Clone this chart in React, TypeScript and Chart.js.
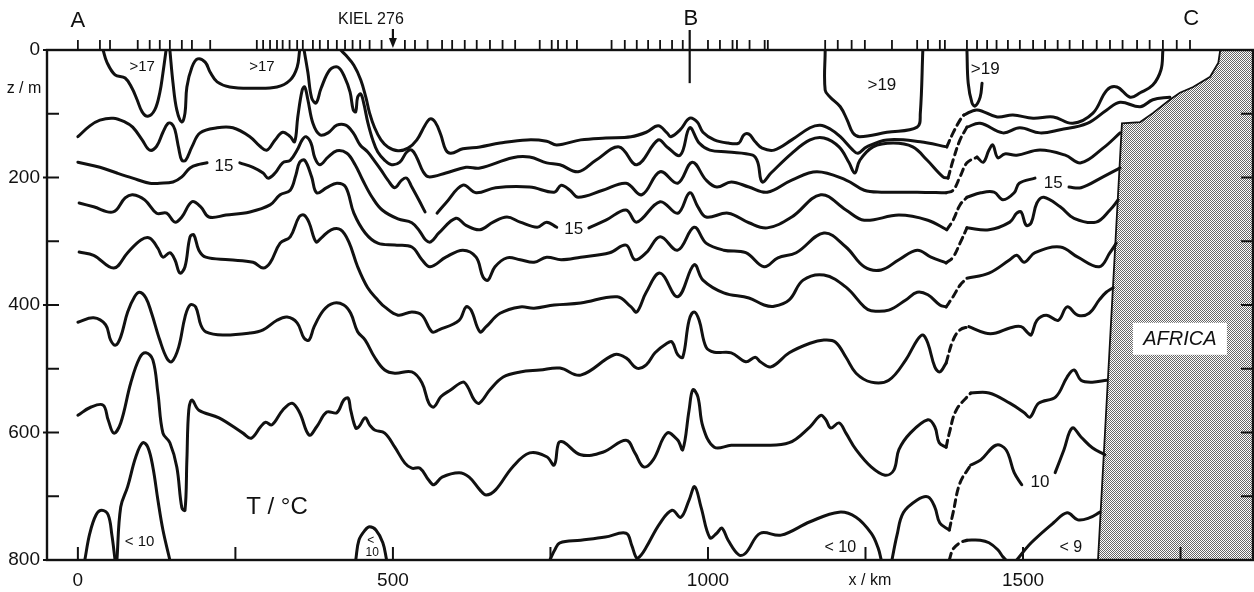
import React, { useEffect, useRef } from "react";
import { Chart, registerables } from "chart.js";
Chart.register(...registerables);

// ---- axes ----
const xRange = [-49, 1865]; // km
const yRange = [0, 800]; // m (depth, downwards)
const depthTicks = [0, 100, 200, 300, 400, 500, 600, 700, 800];
const depthLabels = [0, 200, 400, 600, 800];
const rightTicks = [100, 200, 300, 400, 500, 600, 700];
const distTicks = [0, 250, 500, 750, 1000, 1250, 1500, 1750];
const distLabels = [0, 500, 1000, 1500];
const stations = [0, 35, 51, 95, 114, 130, 146, 165, 181, 210, 284, 294, 305, 316, 325, 336, 348, 357, 373, 384, 397, 411, 424, 436, 448, 463, 482, 519, 535, 555, 578, 594, 614, 633, 654, 674, 694, 733, 752, 762, 776, 792, 847, 868, 887, 905, 924, 943, 960, 1000, 1019, 1039, 1046, 1066, 1090, 1095, 1186, 1206, 1228, 1249, 1292, 1332, 1349, 1368, 1376, 1411, 1427, 1443, 1458, 1476, 1495, 1516, 1535, 1555, 1574, 1595, 1617, 1638, 1658, 1681, 1701, 1722, 1744, 1765];

// ---- isotherms [km, m] ----
const loop17a = [[40,0],[46,19],[59,39],[75,44],[86,60],[94,78],[102,97],[111,104],[122,94],[130,67],[135,36],[140,0]];
const loop17b = [[146,0],[151,52],[157,94],[165,113],[170,99],[173,58],[181,27],[190,14],[202,19],[210,35],[221,50],[241,58],[278,60],[316,58],[337,47],[348,27],[352,0]];
const iso1a = [[417,0],[425,8],[438,24],[449,47],[457,74],[463,99],[471,122],[481,141],[492,152],[508,158],[524,154],[538,141],[551,118],[559,108],[567,113],[576,133],[584,157],[592,162],[611,155],[638,152],[670,146],[713,141],[744,143],[760,149],[798,141],[838,138],[878,136],[902,129],[921,119],[935,130],[941,136],[956,125],[971,107],[983,113],[992,129],[1010,141],[1032,146],[1049,146],[1057,133],[1065,132],[1075,144],[1086,154],[1105,157],[1133,141],[1162,122],[1178,118],[1194,124],[1210,136],[1230,157],[1238,162],[1252,152],[1284,141],[1337,144],[1379,152]];
const iso1dash = [[1379,152],[1389,130],[1400,110],[1406,102]];
const iso1b = [[1406,102],[1427,94],[1459,105],[1484,102],[1516,107],[1548,105],[1579,115],[1611,99],[1633,63],[1649,58],[1670,74],[1686,67],[1706,55],[1719,31],[1722,0]];
const iso2a = [[359,0],[365,35],[371,75],[378,83],[386,60],[400,31],[413,27],[424,44],[432,66],[437,94],[441,97],[444,74],[449,69],[454,85],[460,113],[468,141],[476,160],[487,173],[498,180],[511,176],[522,160],[530,157],[538,169],[548,191],[557,199],[584,193],[616,184],[638,185],[690,169],[717,168],[744,177],[765,180],[794,191],[822,173],[859,152],[887,180],[921,141],[935,152],[956,165],[971,122],[986,146],[1003,157],[1032,160],[1071,165],[1079,176],[1086,207],[1100,193],[1133,162],[1162,141],[1184,138],[1208,152],[1224,177],[1233,193],[1241,173],[1262,152],[1294,146],[1325,152],[1348,173],[1373,199],[1381,201]];
const iso2dash = [[1381,201],[1389,173],[1400,141],[1411,121]];
const iso2b = [[1411,121],[1432,115],[1468,130],[1495,122],[1527,130],[1559,125],[1602,115],[1633,94],[1654,82],[1686,89],[1706,78],[1733,74]];
const iso3a = [[0,136],[19,119],[35,110],[56,107],[75,113],[87,121],[102,141],[114,157],[125,151],[135,129],[143,115],[149,116],[154,125],[160,154],[165,173],[171,173],[181,152],[194,130],[221,122],[246,122],[273,136],[289,151],[300,157],[313,141],[325,129],[337,136],[344,144],[349,105],[356,63],[360,58],[365,78],[373,115],[384,133],[397,130],[411,118],[425,118],[437,130],[448,149],[460,160],[473,177],[481,188],[492,204],[503,216],[514,204],[522,201],[530,215],[541,235],[551,254]];
const iso3b = [[570,256],[584,240],[611,212],[632,224],[663,216],[717,215],[756,223],[767,212],[781,220],[794,231],[833,220],[870,209],[895,227],[924,191],[952,209],[975,176],[997,204],[1014,215],[1037,207],[1065,215],[1094,223],[1133,204],[1173,191],[1219,204],[1248,220],[1275,223],[1332,223],[1378,224]];
const iso3dash = [[1378,224],[1389,220],[1400,199],[1411,177],[1427,168]];
const iso3c = [[1427,168],[1437,176],[1446,157],[1452,149],[1460,169],[1471,163],[1490,165],[1527,157],[1567,165],[1592,177],[1627,154],[1654,130]];
const iso4a = [[0,176],[35,184],[62,193],[87,201],[114,209],[130,209],[151,207],[165,199],[178,185],[194,179],[205,177]];
const iso4b = [[257,177],[278,184],[294,193],[302,201],[313,193],[325,177],[337,173],[348,157],[356,141],[362,136],[370,146],[376,169],[384,180],[397,168],[411,158],[427,162],[440,180],[452,204],[467,231],[483,251],[508,265],[530,271],[543,285],[552,298],[560,301],[573,287],[600,264],[616,275],[638,282],[659,270],[681,262],[702,270],[729,278],[744,270],[760,278]];
const iso4c = [[811,279],[838,267],[870,251],[887,270],[924,238],[952,256],[971,224],[984,246],[997,262],[1032,256],[1065,271],[1094,279],[1133,262],[1179,227],[1219,251],[1248,267],[1303,259],[1349,267],[1379,282]];
const iso4dash = [[1379,282],[1389,267],[1400,243],[1411,231]];
const iso4d = [[1411,231],[1433,224],[1454,223],[1468,235],[1486,224],[1494,209],[1519,201]];
const iso4e = [[1573,215],[1592,216],[1627,199],[1654,185]];
const iso5a = [[2,240],[25,246],[56,254],[75,232],[87,227],[106,235],[125,256],[141,256],[154,270],[165,262],[181,238],[195,246],[208,262],[235,259],[273,254],[305,243],[321,227],[337,220],[346,196],[352,176],[360,173],[371,199],[379,224],[395,216],[411,209],[425,215],[438,256],[456,287],[476,303],[503,306],[530,309],[546,329],[559,340],[584,325],[611,314],[632,325],[643,356],[651,361],[662,340],[681,326],[702,329],[724,333],[744,325],[767,329],[798,325],[844,318],[870,306],[884,329],[902,318],[924,293],[952,314],[978,278],[997,303],[1025,314],[1060,318],[1089,340],[1111,326],[1140,318],[1184,287],[1219,309],[1248,340],[1275,345],[1303,329],[1332,314],[1354,325],[1378,334]];
const iso5dash = [[1378,334],[1389,325],[1400,303],[1411,279]];
const iso5b = [[1411,279],[1446,282],[1479,270],[1490,256],[1497,254],[1505,275],[1513,271],[1522,240],[1533,231],[1559,246],[1581,264],[1616,270],[1638,251],[1651,235]];
const iso6a = [[2,317],[25,322],[57,342],[79,318],[100,298],[114,295],[127,311],[135,325],[146,318],[154,329],[162,350],[170,340],[178,293],[184,290],[192,314],[203,325],[240,329],[278,333],[294,342],[305,334],[321,303],[337,293],[351,262],[359,259],[367,271],[378,301],[386,295],[402,282],[417,282],[430,301],[444,340],[460,373],[476,392],[487,403],[508,416],[530,411],[546,416],[562,442],[573,439],[605,424],[616,403],[624,408],[638,442],[648,434],[670,413],[702,403],[724,405],[756,400],[798,397],[856,387],[878,403],[887,411],[902,380],[924,350],[952,387],[978,337],[992,361],[1025,381],[1065,389],[1089,400],[1105,402],[1129,392],[1151,361],[1184,353],[1219,372],[1248,403],[1259,409],[1287,408],[1314,392],[1332,380],[1349,384],[1368,400],[1378,403]];
const iso6dash = [[1378,403],[1389,387],[1400,369],[1411,358]];
const iso6b = [[1411,358],[1446,350],[1479,329],[1490,322],[1502,333],[1519,318],[1559,309],[1587,325],[1621,340],[1638,318],[1648,303]];
const iso7a = [[0,427],[25,420],[44,431],[52,455],[60,463],[68,450],[79,411],[90,387],[98,380],[108,389],[117,413],[130,455],[141,483],[149,489],[160,466],[170,419],[178,400],[187,403],[195,431],[203,442],[230,447],[273,444],[294,439],[316,424],[332,419],[348,428],[359,452],[367,455],[375,434],[390,408],[406,397],[422,400],[433,413],[444,442],[456,455],[471,482],[487,502],[503,507],[530,505],[546,522],[557,554],[565,560],[576,544],[592,533],[611,521],[619,529],[629,549],[637,554],[654,533],[675,513],[702,505],[733,502],[765,499],[798,510],[851,478],[870,483],[887,499],[902,494],[916,475],[935,460],[943,458],[952,478],[960,482],[970,424],[978,411],[986,424],[997,466],[1010,474],[1037,475],[1060,489],[1075,482],[1083,489],[1100,497],[1129,475],[1162,460],[1184,455],[1202,458],[1219,482],[1235,507],[1259,521],[1287,518],[1314,486],[1332,455],[1341,447],[1349,460],[1360,497],[1368,505],[1378,491]];
const iso7dash = [[1378,491],[1389,455],[1400,439],[1414,434]];
const iso7b = [[1414,434],[1440,444],[1457,444],[1479,436],[1497,434],[1508,444],[1513,447],[1522,424],[1537,416],[1556,424],[1570,403],[1587,416],[1605,413],[1621,392],[1632,380],[1643,373]];
const iso8a = [[0,573],[21,560],[40,557],[48,580],[57,601],[68,585],[84,522],[98,483],[108,475],[119,486],[127,538],[135,601],[146,616],[157,654],[165,718],[170,722],[173,643],[176,565],[181,549],[192,565],[224,577],[262,601],[275,609],[290,591],[298,584],[308,588],[325,565],[340,554],[352,569],[367,604],[379,591],[395,568],[411,569],[422,549],[429,546],[433,565],[441,593],[446,591],[456,577],[463,588],[471,596],[487,601],[503,623],[519,648],[530,656],[543,656],[557,675],[565,682],[578,670],[605,663],[621,670],[638,690],[648,698],[663,690],[690,654],[717,632],[744,638],[756,651],[763,616],[771,615],[798,635],[833,631],[870,612],[884,632],[898,654],[913,643],[935,601],[952,612],[960,627],[970,565],[976,533],[984,544],[992,591],[1010,623],[1037,620],[1083,620],[1129,616],[1162,591],[1179,573],[1187,580],[1195,593],[1208,585],[1219,601],[1235,627],[1259,654],[1281,667],[1295,659],[1303,627],[1321,601],[1349,580],[1360,591],[1367,616],[1378,623]];
const iso8dash = [[1378,623],[1383,601],[1394,565],[1417,538]];
const iso8b = [[1417,538],[1446,538],[1479,554],[1502,569],[1511,576],[1525,554],[1552,544],[1570,513],[1581,502],[1592,518],[1610,521],[1633,518]];
const iso9a = [[749,800],[757,784],[765,773],[798,769],[837,764],[870,758],[879,777],[887,797],[894,792],[902,780],[924,742],[943,722],[957,733],[970,706],[979,685],[989,717],[1003,765],[1014,758],[1022,750],[1032,769],[1049,792],[1060,789],[1083,758],[1116,761],[1162,740],[1208,725],[1235,733],[1259,758],[1270,781],[1275,800]];
const iso9b = [[1292,800],[1300,761],[1310,726],[1332,706],[1349,701],[1360,717],[1368,742],[1383,753]];
const iso9dash = [[1383,753],[1389,726],[1400,679],[1417,651]];
const iso9c = [[1417,651],[1433,643],[1457,620],[1473,627],[1486,663],[1498,682]];
const iso9d = [[1551,663],[1565,627],[1578,593],[1592,607],[1610,624],[1630,635]];
const loop10dash = [[1383,800],[1389,783],[1400,773],[1411,769]];
const loop10 = [[1411,769],[1432,769],[1446,773],[1460,784],[1468,795],[1473,800]];
const line9 = [[1490,800],[1513,773],[1548,742],[1570,726],[1587,737],[1605,734],[1622,725]];
const loopA = [[11,800],[19,758],[29,729],[38,722],[48,729],[54,761],[59,800]];
const loopB = [[62,800],[68,717],[79,685],[92,638],[103,616],[111,623],[119,654],[127,706],[135,753],[146,800]];
const loopC = [[441,800],[446,769],[456,753],[463,748],[473,753],[484,773],[490,800]];
const loop19a = [[1186,0],[1186,63],[1194,74],[1210,89],[1221,110],[1230,130],[1241,136],[1284,129],[1332,121],[1337,99],[1341,0]];
const loop19b = [[1411,0],[1413,52],[1419,83],[1424,88],[1432,74],[1435,52]];
const africaCoast = [[1813,0],[1810,20],[1797,42],[1770,58],[1749,67],[1733,78],[1706,99],[1686,113],[1657,115],[1619,800]];

// ---- labels [text, km, m, size] ----
const fieldLabels: [string, number, number, number][] = [
  [">17", 102, 27, 15], [">17", 292, 27, 15],
  [">19", 1276, 56, 17], [">19", 1440, 31, 17],
  ["15", 232, 182, 17], ["15", 787, 282, 17], ["15", 1548, 209, 17],
  ["10", 1527, 678, 17],
  ["< 10", 98, 772, 15], ["< 10", 1210, 780, 16], ["< 9", 1576, 780, 16],
  ["<", 465, 769, 12], ["10", 467, 789, 12],
  ["T / \u00B0C", 316, 717, 24],
];

const solidLines = [loop17a, loop17b, iso1a, iso1b, iso2a, iso2b, iso3a, iso3b, iso3c, iso4a, iso4b, iso4c, iso4d, iso4e, iso5a, iso5b, iso6a, iso6b, iso7a, iso7b, iso8a, iso8b, iso9a, iso9b, iso9c, iso9d, loop10, line9, loopA, loopB, loopC, loop19a, loop19b];
const dashedLines = [iso1dash, iso2dash, iso3dash, iso4dash, iso5dash, iso6dash, iso7dash, iso8dash, iso9dash, loop10dash];

const FONT = '"Liberation Sans", Arial, Helvetica, sans-serif';
const INK = "#111";

function makeDataset(pts: number[][], dashed: boolean) {
  return {
    data: pts.map(([x, y]) => ({ x, y })),
    borderColor: INK,
    borderWidth: 3,
    borderDash: dashed ? [7, 5] : [],
    borderCapStyle: "round",
    borderJoinStyle: "round",
    pointRadius: 0,
    tension: 0.38,
    fill: false,
  };
}

export default function App() {
  const ref = useRef<HTMLCanvasElement | null>(null);
  useEffect(() => {
    const canvas = ref.current;
    if (!canvas) return;
    const pc = document.createElement("canvas");
    pc.width = 2; pc.height = 2;
    const p = pc.getContext("2d")!;
    p.fillStyle = "#fdfdfd"; p.fillRect(0, 0, 2, 2);
    p.fillStyle = "#666"; p.fillRect(0, 0, 1, 1); p.fillRect(1, 1, 1, 1);
    const pattern = canvas.getContext("2d")!.createPattern(pc, "repeat");

    const decor = {
      id: "decor",
      beforeDatasetsDraw(chart: any) {
        const { ctx, scales } = chart;
        const X = (v: number) => scales.x.getPixelForValue(v);
        const Y = (v: number) => scales.y.getPixelForValue(v);
        ctx.save();
        ctx.beginPath();
        africaCoast.forEach(([k, m], i) => (i ? ctx.lineTo(X(k), Y(m)) : ctx.moveTo(X(k), Y(m))));
        ctx.lineTo(X(xRange[1]), Y(yRange[1]));
        ctx.lineTo(X(xRange[1]), Y(yRange[0]));
        ctx.closePath();
        ctx.fillStyle = pattern as any;
        ctx.fill();
        ctx.beginPath();
        africaCoast.forEach(([k, m], i) => (i ? ctx.lineTo(X(k), Y(m)) : ctx.moveTo(X(k), Y(m))));
        ctx.strokeStyle = INK; ctx.lineWidth = 1.8; ctx.stroke();
        // AFRICA label box
        const bx = X(1749), by = Y(453);
        ctx.fillStyle = "#fff";
        ctx.fillRect(bx - 47, by - 16, 94, 32);
        ctx.fillStyle = INK;
        ctx.font = `italic 20px ${FONT}`;
        ctx.textAlign = "center"; ctx.textBaseline = "middle";
        ctx.fillText("AFRICA", bx, by + 1);
        ctx.restore();
      },
      afterDatasetsDraw(chart: any) {
        const { ctx, chartArea: a, scales } = chart;
        const X = (v: number) => scales.x.getPixelForValue(v);
        const Y = (v: number) => scales.y.getPixelForValue(v);
        const seg = (x1: number, y1: number, x2: number, y2: number) => {
          ctx.beginPath(); ctx.moveTo(x1, y1); ctx.lineTo(x2, y2); ctx.stroke();
        };
        ctx.save();
        ctx.strokeStyle = INK; ctx.fillStyle = INK;
        ctx.lineWidth = 2.4;
        ctx.strokeRect(a.left, a.top, a.right - a.left, a.bottom - a.top);
        ctx.lineWidth = 2;
        depthTicks.forEach((d) => seg(a.left - (d % 200 === 0 ? 4 : 0), Y(d), a.left + 12, Y(d)));
        rightTicks.forEach((d) => seg(a.right, Y(d), a.right - 12, Y(d)));
        distTicks.forEach((k) => seg(X(k), a.bottom, X(k), a.bottom - 13));
        ctx.lineWidth = 1.8;
        stations.forEach((k) => seg(X(k), a.top, X(k), a.top - 10));
        // B marker
        ctx.lineWidth = 2.2;
        seg(X(971), a.top - 20, X(971), Y(52));
        // Kiel 276 arrow
        const ax = X(500);
        seg(ax, a.top - 21, ax, a.top - 10);
        ctx.beginPath(); ctx.moveTo(ax - 4, a.top - 12); ctx.lineTo(ax + 4, a.top - 12); ctx.lineTo(ax, a.top - 2); ctx.closePath(); ctx.fill();

        ctx.textBaseline = "middle";
        ctx.font = `19px ${FONT}`;
        ctx.textAlign = "right";
        depthLabels.forEach((d) => ctx.fillText(String(d), a.left - 7, Y(d)));
        ctx.textAlign = "center";
        distLabels.forEach((k) => ctx.fillText(String(k), X(k), a.bottom + 21));
        ctx.font = `16px ${FONT}`;
        ctx.fillText("z / m", a.left - 23, Y(61));
        ctx.fillText("x / km", X(1257), a.bottom + 21);
        ctx.font = `22px ${FONT}`;
        ctx.fillText("A", X(0), a.top - 29);
        ctx.fillText("B", X(973), a.top - 31);
        ctx.fillText("C", X(1767), a.top - 31);
        ctx.font = `16px ${FONT}`;
        ctx.fillText("KIEL 276", X(465), a.top - 30);
        fieldLabels.forEach(([t, k, m, s]) => {
          ctx.font = `${s}px ${FONT}`;
          ctx.fillText(t, X(k), Y(m));
        });
        ctx.restore();
      },
    };

    const datasets = [
      ...solidLines.map((l) => makeDataset(l, false)),
      ...dashedLines.map((l) => makeDataset(l, true)),
    ];
    const chart = new Chart(canvas, {
      type: "line",
      data: { datasets } as any,
      options: {
        animation: false,
        responsive: false,
        devicePixelRatio: 1,
        events: [],
        layout: { padding: { left: 47, right: 1, top: 50, bottom: 32 } },
        scales: {
          x: { type: "linear", min: xRange[0], max: xRange[1], display: false },
          y: { type: "linear", min: yRange[0], max: yRange[1], reverse: true, display: false },
        },
        plugins: { legend: { display: false }, tooltip: { enabled: false } },
      } as any,
      plugins: [decor],
    });
    return () => chart.destroy();
  }, []);
  return (
    <div style={{ position: "fixed", left: 0, top: 0, width: 1254, height: 592, background: "#fff" }}>
      <canvas ref={ref} width={1254} height={592} style={{ display: "block" }} />
    </div>
  );
}
